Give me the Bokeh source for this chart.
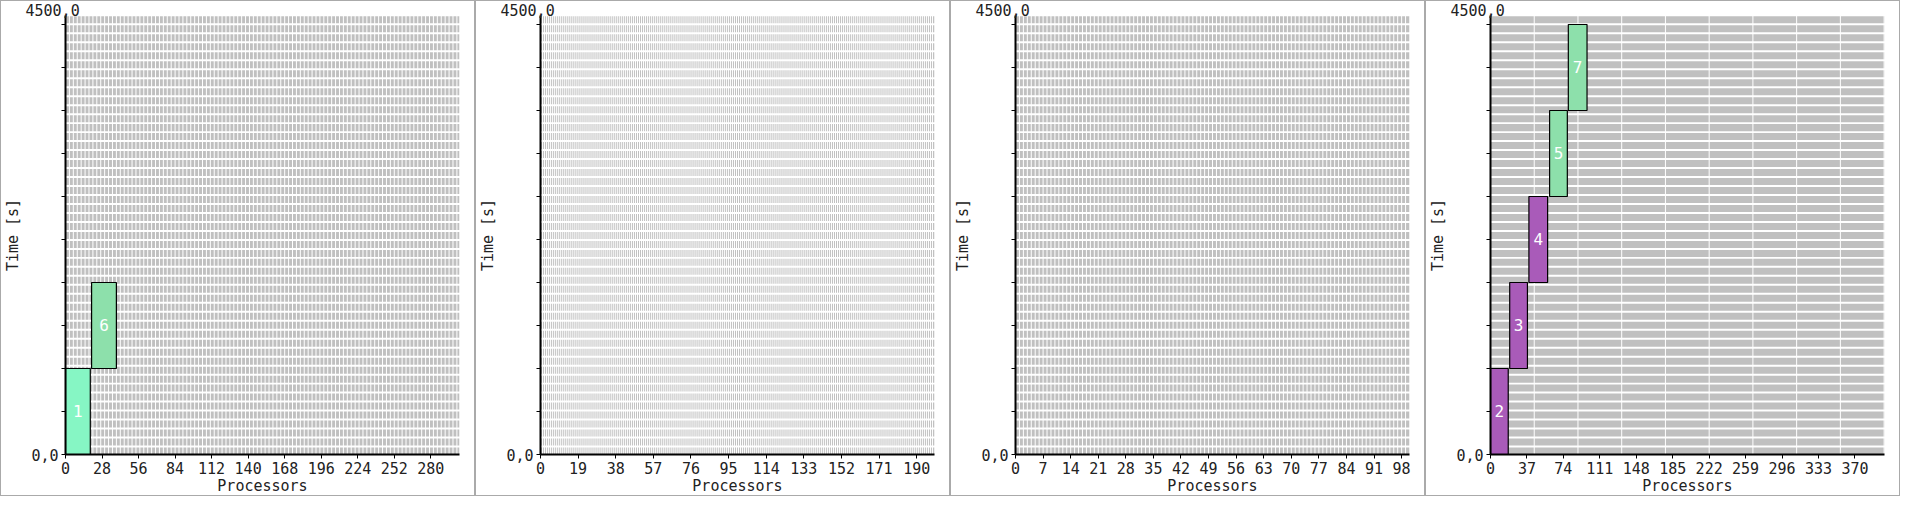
import numpy as np
from bokeh.embed import file_html
from bokeh.resources import INLINE
from bokeh.layouts import row
from bokeh.plotting import figure

# one entry per panel
PANEL_XMAX = [302, 199, 100, 400]
PANEL_CELL = [3, 1, 1, 44.4]
PANEL_TICK_STEP = [28, 19, 7, 37]
PANEL_TICK_COUNT = [11, 11, 15, 11]

# jobs: (panel, id, x0, x1, start, end, colour)
JOB_PANEL = [0, 0, 3, 3, 3, 3, 3]
JOB_ID = ["1", "6", "2", "3", "4", "5", "7"]
JOB_X0 = [0, 20, 0, 19.5, 39, 60, 79]
JOB_X1 = [19, 39, 18, 37.5, 58, 78, 98]
JOB_START = [0, 900, 0, 900, 1800, 2700, 3600]
JOB_END = [900, 1800, 900, 1800, 2700, 3600, 4500]
JOB_COLOR = ["#86f6c4", "#8de0ab", "#a95bb9", "#a95bb9", "#a95bb9", "#8de0ab", "#8de0ab"]

YMAX = 4594
ROW = 94
FONT = "DejaVu Sans Mono"
FS = "15px"


def make_panel(i):
    xmax = PANEL_XMAX[i]
    p = figure(width=475, height=496, x_range=(0, xmax), y_range=(0, YMAX),
               output_backend="svg", toolbar_location=None, title="4500,0",
               min_border_left=50, min_border_right=17,
               min_border_top=4, min_border_bottom=40,
               styles={"border": "1px solid #aaaaaa", "box-sizing": "border-box"})
    p.title.text_font = FONT
    p.title.text_font_size = FS
    p.title.text_font_style = "normal"
    p.title.text_color = "#222222"
    p.title.align = "left"
    p.title.offset = -40
    p.title.standoff = 0
    p.grid.visible = False
    p.outline_line_color = None

    # grey row bands with white column gaps
    starts = np.arange(0, YMAX - ROW / 2, ROW)
    p.quad(left=0, right=xmax, bottom=starts, top=starts + ROW * 0.78,
           fill_color="#c0c0c0", line_color=None)
    cols = np.arange(PANEL_CELL[i], xmax, PANEL_CELL[i])
    p.segment(x0=cols, y0=0, x1=cols, y1=YMAX, line_color="white", line_width=1)

    idx = [k for k, pn in enumerate(JOB_PANEL) if pn == i]
    if idx:
        data = dict(
            x0=[JOB_X0[k] for k in idx], x1=[JOB_X1[k] for k in idx],
            y0=[JOB_START[k] for k in idx], y1=[JOB_END[k] for k in idx],
            c=[JOB_COLOR[k] for k in idx], t=[JOB_ID[k] for k in idx],
            xm=[(JOB_X0[k] + JOB_X1[k]) / 2 for k in idx],
            ym=[(JOB_START[k] + JOB_END[k]) / 2 for k in idx])
        p.quad(left="x0", right="x1", bottom="y0", top="y1", fill_color="c",
               line_color="black", line_width=1.2, source=data)
        p.text(x="xm", y="ym", text="t", text_color="white", text_align="center",
               text_baseline="middle", text_font_size="16px",
               text_font={"value": FONT}, source=data)

    p.xaxis.ticker = [PANEL_TICK_STEP[i] * n for n in range(PANEL_TICK_COUNT[i])]
    p.xaxis.axis_label = "Processors"
    p.yaxis.axis_label = "Time [s]"
    yt = list(range(0, 4501, 450))
    p.yaxis.ticker = yt
    p.yaxis.major_label_overrides = {t: ("0,0" if t == 0 else "") for t in yt}
    for ax in (p.xaxis[0], p.yaxis[0]):
        ax.minor_tick_line_color = None
        ax.axis_line_width = 2
        ax.axis_line_color = "black"
        ax.major_tick_line_color = "black"
        ax.major_tick_out = 4
        ax.major_tick_in = 0
        ax.major_label_text_font = FONT
        ax.major_label_text_font_size = FS
        ax.major_label_text_color = "#222222"
        ax.axis_label_text_font = FONT
        ax.axis_label_text_font_size = FS
        ax.axis_label_text_font_style = "normal"
        ax.axis_label_text_color = "#222222"
        ax.major_label_standoff = 3
    p.xaxis.axis_label_standoff = 0
    p.yaxis.axis_label_standoff = 6
    return p


layout = row(*[make_panel(i) for i in range(4)], spacing=0)
open("out.html", "w").write(file_html(layout, INLINE))
